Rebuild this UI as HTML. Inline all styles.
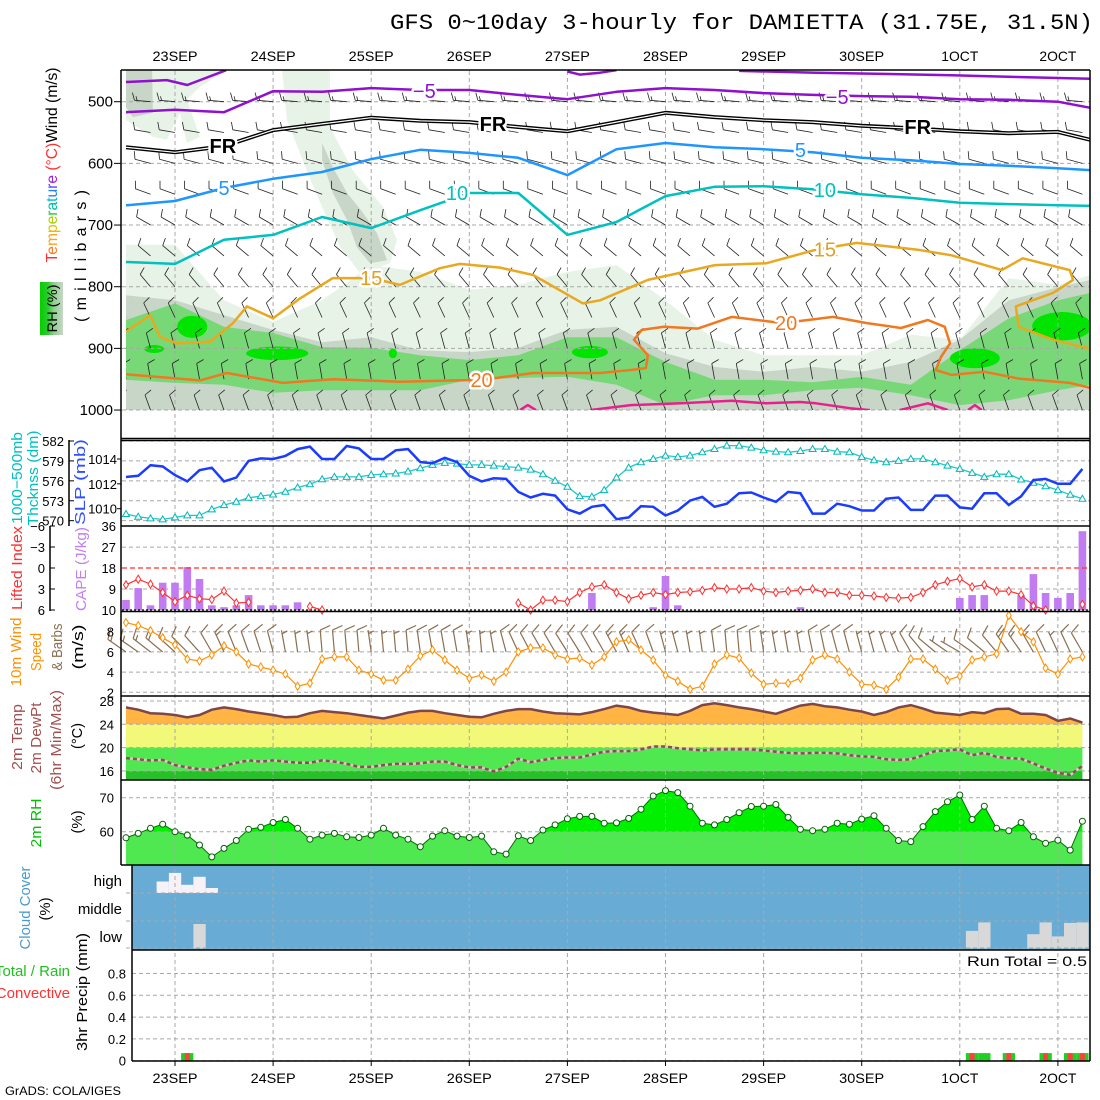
<!DOCTYPE html>
<html><head><meta charset="utf-8"><title>GFS meteogram DAMIETTA</title>
<style>
html,body{margin:0;padding:0;background:#fff;}
svg{display:block;font-family:"Liberation Sans",Arial,sans-serif;}
</style></head>
<body>
<svg id="chart" width="1100" height="1100" viewBox="0 0 1100 1100" xmlns="http://www.w3.org/2000/svg">
<defs>
<clipPath id="clipTop"><rect x="126" y="70" width="964" height="340"/></clipPath>
<clipPath id="clipRHhi"><rect x="120" y="780" width="975" height="51.7"/></clipPath>
<linearGradient id="rhGrad" x1="0" x2="1" y1="0" y2="0">
<stop offset="0" stop-color="#00d000"/><stop offset="0.35" stop-color="#30c830"/><stop offset="0.6" stop-color="#90d090"/><stop offset="1" stop-color="#c8d6c8"/>
</linearGradient>
</defs>
<rect x="0" y="0" width="1100" height="1100" fill="#fff"/>
<text x="1093" y="29" text-anchor="end" font-family="Liberation Mono, monospace" font-size="22" textLength="703" lengthAdjust="spacingAndGlyphs">GFS 0~10day 3-hourly for DAMIETTA (31.75E, 31.5N)</text>

<g id="gFill"></g>
<g id="gGrid"></g>
<g id="gMarks"></g>
<g id="gFrames" stroke="#000" stroke-width="1.5" fill="none">
<line x1="121" y1="70" x2="1090" y2="70"/>
<line x1="121" y1="70" x2="121" y2="865"/>
<line x1="1090" y1="70" x2="1090" y2="1061"/>
<line x1="121" y1="438.5" x2="1090" y2="438.5"/>
<line x1="121" y1="440.5" x2="1090" y2="440.5"/>
<line x1="121" y1="526" x2="1090" y2="526"/>
<line x1="121" y1="611.5" x2="1090" y2="611.5"/>
<line x1="121" y1="696" x2="1090" y2="696"/>
<line x1="121" y1="780" x2="1090" y2="780"/>
<line x1="121" y1="865" x2="1090" y2="865"/>
<line x1="132" y1="865" x2="132" y2="1061"/>
<line x1="132" y1="950" x2="1090" y2="950"/>
<line x1="132" y1="1061" x2="1090" y2="1061"/>
<line x1="69" y1="440" x2="69" y2="526"/>
<line x1="50" y1="526" x2="50" y2="611"/>
</g>

<g id="gLabels">
<text transform="translate(57,165) rotate(-90)" text-anchor="middle" font-size="16" textLength="195" lengthAdjust="spacingAndGlyphs"><tspan fill="#ff3030">T</tspan><tspan fill="#ff7a20">e</tspan><tspan fill="#ffa020">m</tspan><tspan fill="#e0c000">p</tspan><tspan fill="#a8d000">e</tspan><tspan fill="#30c040">r</tspan><tspan fill="#00c0a0">a</tspan><tspan fill="#00b8d8">t</tspan><tspan fill="#2080ff">u</tspan><tspan fill="#6040ff">r</tspan><tspan fill="#a020e0">e</tspan><tspan fill="#ff3030"> (°C)</tspan><tspan fill="#000">Wind (m/s)</tspan></text>
<text transform="translate(86,256) rotate(-90)" text-anchor="middle" font-size="16" textLength="132" lengthAdjust="spacing">(millibars)</text>
<rect x="40" y="282" width="23" height="53" fill="url(#rhGrad)"/>
<text transform="translate(57,308.5) rotate(-90)" text-anchor="middle" font-size="14" textLength="48" lengthAdjust="spacingAndGlyphs">RH (%)</text>
<text transform="translate(22,478) rotate(-90)" text-anchor="middle" font-size="15" fill="#00c0c0" textLength="92" lengthAdjust="spacingAndGlyphs">1000−500mb</text>
<text transform="translate(38,478) rotate(-90)" text-anchor="middle" font-size="15" fill="#00c0c0" textLength="95" lengthAdjust="spacingAndGlyphs">Thcknss (dm)</text>
<text transform="translate(85,482) rotate(-90)" text-anchor="middle" font-size="15" fill="#3050ff" textLength="86" lengthAdjust="spacingAndGlyphs">SLP (mb)</text>
<text transform="translate(22,568) rotate(-90)" text-anchor="middle" font-size="15" fill="#ff3030" textLength="84" lengthAdjust="spacingAndGlyphs">Lifted Index</text>
<text transform="translate(86,569) rotate(-90)" text-anchor="middle" font-size="15" fill="#c080f0" textLength="84" lengthAdjust="spacingAndGlyphs">CAPE (J/kg)</text>
<text transform="translate(21,652) rotate(-90)" text-anchor="middle" font-size="15" fill="#ff9000" textLength="69" lengthAdjust="spacingAndGlyphs">10m Wind</text>
<text transform="translate(41,652) rotate(-90)" text-anchor="middle" font-size="15" fill="#ff9000" textLength="38" lengthAdjust="spacingAndGlyphs">Speed</text>
<text transform="translate(62,647) rotate(-90)" text-anchor="middle" font-size="15" fill="#8c6e50" textLength="47" lengthAdjust="spacingAndGlyphs">&amp; Barbs</text>
<text transform="translate(83,647) rotate(-90)" text-anchor="middle" font-size="15" textLength="45" lengthAdjust="spacingAndGlyphs">(m/s)</text>
<text transform="translate(22,737) rotate(-90)" text-anchor="middle" font-size="15" fill="#a05050" textLength="66" lengthAdjust="spacingAndGlyphs">2m Temp</text>
<text transform="translate(41,738) rotate(-90)" text-anchor="middle" font-size="15" fill="#a05050" textLength="71" lengthAdjust="spacingAndGlyphs">2m DewPt</text>
<text transform="translate(61,740) rotate(-90)" text-anchor="middle" font-size="15" fill="#a05050" textLength="100" lengthAdjust="spacingAndGlyphs">(6hr Min/Max)</text>
<text transform="translate(82,736) rotate(-90)" text-anchor="middle" font-size="15" textLength="26" lengthAdjust="spacingAndGlyphs">(°C)</text>
<text transform="translate(41,823) rotate(-90)" text-anchor="middle" font-size="15" fill="#00c000" textLength="49" lengthAdjust="spacingAndGlyphs">2m RH</text>
<text transform="translate(82,822) rotate(-90)" text-anchor="middle" font-size="15" textLength="23" lengthAdjust="spacingAndGlyphs">(%)</text>
<text transform="translate(30,908) rotate(-90)" text-anchor="middle" font-size="15" fill="#4a9ad0" textLength="83" lengthAdjust="spacingAndGlyphs">Cloud Cover</text>
<text transform="translate(50,909) rotate(-90)" text-anchor="middle" font-size="15" textLength="23" lengthAdjust="spacingAndGlyphs">(%)</text>
<text x="122" y="886" text-anchor="end" font-size="15">high</text>
<text x="122" y="914" text-anchor="end" font-size="15">middle</text>
<text x="122" y="942" text-anchor="end" font-size="15">low</text>
<text transform="translate(87,992) rotate(-90)" text-anchor="middle" font-size="15" textLength="118" lengthAdjust="spacingAndGlyphs">3hr Precip (mm)</text>
<text x="70" y="976" text-anchor="end" font-size="15" fill="#20c020">Total / Rain</text>
<text x="70" y="998" text-anchor="end" font-size="15" fill="#ff3030">Convective</text>
<text x="1087" y="966" text-anchor="end" font-size="14" textLength="120" lengthAdjust="spacingAndGlyphs">Run Total = 0.5</text>
<text x="5" y="1095" font-size="12" textLength="116" lengthAdjust="spacingAndGlyphs">GrADS: COLA/IGES</text>
</g>
</svg>

<script>
const hours = [];
for (let i = 0; i < 79; i++) hours.push(-12 + 3 * i);
const dayLabels = ['23SEP','24SEP','25SEP','26SEP','27SEP','28SEP','29SEP','30SEP','1OCT','2OCT'];
const dayHours = [0,24,48,72,96,120,144,168,192,216];

const slp = [1012.55,1012.65,1013.5,1013.4,1012.7,1012.2,1013.1,1013.3,1012.2,1012.5,1013.85,1014.05,1014,1014.25,1014.8,1015,1014,1014,1015.05,1014.85,1014,1014,1014.7,1014.8,1013.75,1013.65,1014.1,1013.75,1012.65,1012.2,1012.45,1012.4,1011.35,1010.9,1011.2,1011.05,1009.95,1009.6,1010.15,
1010.3,1009.15,1009.3,1010.2,1010.15,1009.45,1009.85,1010.65,1010.95,1010.15,1010.4,1011.25,1011.3,1010.9,1010.55,1011.35,1011.25,1009.6,1009.6,1010.4,1010.2,1009.85,1009.85,1010.8,1010.9,1009.9,1009.9,1011.05,1011.05,1010.1,1010,1011.25,1011.25,1010.3,1011,1012.3,1012.4,1012,1012,1013.2];
const thick = [571,570.6,570.35,570.2,570.5,570.8,570.8,571.7,572.35,572.85,573.45,573.7,573.95,574.35,575,575.5,576.25,576.6,576.6,576.6,576.9,577,577.1,577.4,577.9,578.4,578.7,578.6,578.4,578.4,578.3,578.15,578,577.7,577,576,575.1,573.7,573.6,
574.6,576.5,578,578.8,579.3,579.8,579.6,579.8,580.3,580.8,581.3,581.3,581,580.6,580.4,580.3,580.5,580.8,580.8,580.4,580.3,579.6,579.1,578.8,579,579.3,579.3,578.8,578.3,577.8,577.2,576.6,577,577,576.2,575.7,575.2,574.6,573.9,573.3];
const thickTicks = [582,579,576,573,570];
const slpTicks = [1014,1012,1010];

const cape = [4.3,9.4,2,11.7,11.7,18.4,13.3,2,1.2,2,6.4,2,2,2,3.3,
0,0,0,0,0,0,0,0,0,0,0,0,0,0,0,0,0,0,0,0,0,0,0,
7.3,0,0,0,0,1.2,14.6,2,0,0,0,0,0,0,0,0,0,1.2,0,0,0,0,0,0,0,0,0,0,0,0,5.2,6.4,6.4,0,0,6.4,15.4,7.3,5.2,7.3,33.8];
const li = [2.4,1.6,2.3,3.5,4.8,3.9,4.4,4.5,3.3,5.0,4.9,null,null,null,null,5.5,6.0,
null,null,null,null,null,null,null,null,null,null,null,null,null,null,null,
5.0,6.0,4.6,4.6,4.8,3.5,2.7,2.4,3.5,4.4,3.9,3.5,3.8,3.5,3.4,3.2,2.8,3.0,3.0,2.8,3.3,3.5,3.3,3.2,3.0,3.5,3.5,3.9,3.9,4.0,4.2,4.3,4.2,3.5,2.4,1.9,1.5,2.7,2.4,3.3,3.3,3.8,5.4,6.0,null,null,5.2];
const liTicks = [-6,-3,0,3,6];
const capeTickLabels = ['36','27','18','9','10'];
const capeTickValues = [36,27,18,9,0];

const wspd = [8.9,8.6,8.1,7.4,6.7,5.3,5.1,5.7,6.6,6.0,4.8,4.5,4.2,3.8,2.6,2.9,5.3,5.5,5.5,4.2,3.8,3.2,3.2,4.3,5.6,6.2,5.2,4.2,3.4,3.7,3.1,4.0,6.0,6.4,6.4,5.7,5.3,5.4,4.7,
5.5,7.0,7.2,6.2,5.2,3.7,3.1,2.3,2.6,4.8,5.7,5.4,3.9,2.8,2.9,2.9,3.4,5.2,5.7,5.3,4.0,2.8,2.7,2.3,3.5,5.3,5.3,4.3,3.2,3.6,5.2,5.5,5.8,9.6,8.0,7.0,4.4,3.8,5.3,5.5];
const wdir = [305,305,308,310,312,315,318,330,335,338,340,342,345,
350,352,352,355,355,355,355,352,355,355,355,352,350,350,350,352,355,350,345,
335,332,330,330,328,328,330,330,332,335,335,340,345,345,
350,352,352,355,355,355,352,350,350,350,348,348,345,345,345,345,342,
338,330,320,310,305,300,305,310,320,325,325,330,335,335,335,330];
const wspdTicks = [8,6,4,2];

const t2m = [26.9,26.5,25.9,25.8,25.6,25.2,25.6,26.5,26.9,26.6,26.2,25.9,25.6,25.2,25.3,25.9,26.3,26.1,25.9,25.6,25.3,25.0,25.5,26.0,26.3,26.3,25.9,25.6,25.3,25.2,25.8,26.3,26.6,26.6,26.2,25.9,25.8,25.7,26.1,
26.6,27.2,26.9,26.3,26.0,25.8,25.6,26.3,27.3,27.6,27.3,26.9,26.6,26.2,25.8,26.5,27.2,27.5,27.1,26.9,26.5,26.2,25.6,26.1,26.9,27.3,26.7,26.0,25.8,25.6,26.1,25.9,26.6,26.7,25.8,25.8,25.6,24.6,25.0,24.3];
const td2m = [18.2,18.0,17.8,17.9,17.0,16.6,16.3,16.2,16.9,17.4,17.8,17.6,17.8,17.6,17.4,17.4,17.8,17.6,17.2,16.7,16.7,17.0,17.2,17.2,17.3,17.6,17.6,17.0,16.6,16.6,15.9,16.7,18.1,17.5,17.9,18.2,18.3,18.3,18.8,
19.3,19.4,19.4,19.7,20.2,20.2,19.9,19.7,19.5,19.7,19.7,19.7,19.7,19.5,19.3,19.1,19.0,19.1,19.1,19.0,18.7,18.5,18.4,18.0,17.9,18.0,18.7,19.4,19.5,19.7,18.7,19.1,18.4,18.2,18.1,17.3,16.4,15.7,15.3,16.9];
const tempTicks = [28,24,20,16];

const rh2m = [58.2,59.5,61.0,62.2,60.0,59.0,56.1,52.6,55.1,57.4,60.7,61.3,62.7,63.6,61.0,57.8,59.0,59.5,58.5,58.3,59.0,61.0,59.0,57.8,55.6,58.7,60.3,58.7,58.3,58.7,54.1,53.4,58.8,57.4,60.5,62.0,63.8,64.5,64.5,
62.5,62.6,63.9,66.6,70.5,72.1,71.5,67.5,62.5,62.0,63.6,65.6,67.4,67.5,68.0,64.2,60.7,60.3,60.7,62.5,62.2,63.7,64.7,61.0,57.4,57.1,61.5,65.9,68.8,70.8,63.6,67.5,61.0,60.3,62.7,58.5,56.6,57.5,54.6,63.1];
const rhTicks = [70,60];

const cloudHighIdx = [3,4,5,6,7];
const cloudHighPct = [42,73,30,59,18];
const cloudLowIdx = [6,69,70,74,75,76,77,78];
const cloudLowPct = [89,64,95,52,95,44,93,95];

const precipIdx = [5,69,70,72,75,77,78];
const precipTotal = [0.07,0.07,0.07,0.07,0.07,0.07,0.07];
const precipConv = [0.07,0.07,0,0.07,0.07,0.07,0.07];
const precipTicks = [0.8,0.6,0.4,0.2,0];
const precipTickLabels = ['0.8','0.6','0.4','0.2','0'];

const pTicks = [500,600,700,800,900,1000];
const nodeHours = [-12,0,12,24,36,48,60,72,84,96,108,120,132,144,156,168,180,192,204,216,224];
const isoM5 = [517,513,517,483,484,478,481,481,489,496,484,478,481,486,489,491,492,496,497,500,510];
const isoFR = [574,582,572,546,536,526,531,533,541,548,533,518,525,530,533,539,543,548,551,549,562];
const iso5 = [668,661,640,625,614,593,578,583,591,619,577,567,574,577,582,591,595,601,604,608,611];
const iso10 = [760,763,724,716,687,705,676,648,648,716,695,653,638,637,642,650,656,664,666,668,669];
const isoM5bHoursA = [-12,-2,3,12.5];
const isoM5bPA = [468,465,473,449];
const isoM5bHoursB = [96,99,104,108];
const isoM5bPB = [451,456,453,449];
const isoM5bHoursC = [138,157,190,206,225];
const isoM5bPC = [450,453,457,460,463];
const iso15Hours = [-12,-6.1,-3.7,0.5,8.6,14.2,17.6,24,30.6,38.6,48.2,55,64.8,69.7,79.5,87.6,99.8,104,115.7,132.1,144.6,156.8,166.8,181.7,190,202.3,207.4,218.9,219.7,214.8,205.7,206.4,214.8,225.5];
const iso15P = [873,846,881,892,889,859,832,851,819,786,786,797,770,763,769,781,827,822,789,765,762,740,729,740,749,773,754,773,789,810,832,865,886,903];
const iso20Hours = [-12,6.1,12.7,26.4,38.6,55,75.3,87.6,104,111.5,115.2,115.7,112.3,114.2,119.6,127.9,136.2,148.7,161,169.3,177.6,184.2,188.3,189.6,187.4,186.1,190,198.1,206.4,218.9,223.8];
const iso20P = [942,952,940,956,950,954,951,940,940,935,932,911,886,870,865,868,849,859,849,859,867,854,865,892,914,935,943,938,949,956,964];
const iso25HoursA = [84.4,86.3,88.3];
const iso25PA = [1000,992,1000];
const iso25HoursB = [101.5,111.5,123.8,136.2,144.6,152.9,156.8,165.1,170];
const iso25PB = [1000,992,989,985,989,987,989,997,1000];
const iso25HoursC = [177.3,184.2,189.1];
const iso25PC = [1000,989,1000];
const iso25HoursD = [194,195.7,197.4];
const iso25PD = [1000,992,1000];
const labelText = ['−5','−5','FR','FR','FR','5','5','10','10','15','15','20','20'];
const labelHours = [61,162,11.7,77.8,181.7,12,153,69,159,48,159,75,149.5];
const labelP = [483,492,572,536,541,640,578,648,643,786,740,951,859];
const labelColor = ['#9010d0','#9010d0','#000','#000','#000','#1e96ff','#1e96ff','#00c0c0','#00c0c0','#e0a020','#e0a020','#f07820','#f07820'];
const rhLightTop = [732,732,822,857,822,765,776,805,797,776,765,822,886,911,911,911,878,886,786,797,781];
const rhGrayTop = [814,822,846,870,890,882,903,906,899,870,865,908,930,938,930,938,922,886,822,801,789];
const rhGreenTop = [854,827,865,875,898,899,911,919,911,882,882,922,951,951,955,946,959,903,851,822,810];
const rhGreenBot = [951,956,959,972,968,968,968,951,948,946,959,992,976,976,968,964,976,992,984,968,959];
const streakLightHours = [26.2,37.9,37.9,43.5,50.9,54.3,52.6,45.3,40.4,33.8,27.4];
const streakLightP = [449,449,541,611,671,724,762,778,736,638,530];
const streakDarkHours = [36,38.6,42.1,46,49.4,51.9,47.7,44.5,42.1,38.6,36];
const streakDarkP = [567,606,648,680,713,757,762,736,692,648,595];
const topLeftLightHours = [-12,12.7,6.1,2.9,6.1,2.9,1.2,-2,-5.4,-12];
const topLeftLightP = [449,449,476,497,557,567,518,562,557,530];
const topLeftDarkHours = [-12,-5.6,-5.4,-10.3,-12];
const topLeftDarkP = [449,449,518,525,509];
const blobHours = [4.2,25,-5.1,53.3,101.5,195.7,217];
const blobP = [865,908,901,908,906,916,864];
const blobHalfH = [3.7,7.6,2.4,1,4.4,6.1,7.3];
const blobHalfP = [18,11,6.5,8,10,16,23];
const barbLevels = [500,550,600,650,700,750,800,850,900,950,1000];
const levelDir = [275,280,285,290,300,310,320,335,345,350,340];
const levelSpd = [15,12,10,10,10,10,8,8,10,10,10];

const X = h => 175 + h * 98.1 / 24;
const YP = p => 101.7 + (p - 500) * 0.6167;
const YSLP = v => 459 - (v - 1014) * 12.42;
const YTH = v => 441 + (582 - v) * 6.64;
const YCAPE = v => 610 - v * 2.33;
const YLI = v => 568 + v * 7;
const YW = v => 692.3 - (v - 2) * 10.1;
const YT = v => 724.3 - (v - 24) * 5.83;
const YRH = v => 831.7 - (v - 60) * 3.4;
const YPR = v => 1060.7 - v * 109;

const NS = 'http://www.w3.org/2000/svg';
const gFill = document.getElementById('gFill');
const gGrid = document.getElementById('gGrid');
const gMarks = document.getElementById('gMarks');
const gLabels = document.getElementById('gLabels');

function add(parent, tag, attrs, name) {
  const el = document.createElementNS(NS, tag);
  for (const k in attrs) el.setAttribute(k, attrs[k]);
  
  
  parent.appendChild(el);
  return el;
}
function txt(parent, x, y, s, attrs, name) {
  const el = add(parent, 'text', Object.assign({x: x, y: y}, attrs), name);
  el.textContent = s;
  return el;
}
function ptsHP(hs, ps, yf) { return hs.map((h, i) => X(h).toFixed(1) + ',' + yf(ps[i]).toFixed(1)).join(' '); }
function segments(vals) {
  const segs = []; let cur = [];
  vals.forEach((v, i) => { if (v === null) { if (cur.length) segs.push(cur); cur = []; } else cur.push(i); });
  if (cur.length) segs.push(cur);
  return segs;
}
function barb(parent, x, y, dir, kt, len, color, sw, name) {
  const r = dir * Math.PI / 180;
  const ux = Math.sin(r), uy = -Math.cos(r);
  const ex = x + ux * len, ey = y + uy * len;
  let d = 'M' + x.toFixed(1) + ' ' + y.toFixed(1) + 'L' + ex.toFixed(1) + ' ' + ey.toFixed(1);
  const a = 70 * Math.PI / 180;
  const fx = ux * Math.cos(a) - uy * Math.sin(a), fy = ux * Math.sin(a) + uy * Math.cos(a);
  let rem = Math.round(kt / 5) * 5, k = 0;
  while (rem >= 10) {
    const bx = ex - ux * k * len * 0.16, by = ey - uy * k * len * 0.16;
    d += 'M' + bx.toFixed(1) + ' ' + by.toFixed(1) + 'l' + (fx * len * 0.5).toFixed(1) + ' ' + (fy * len * 0.5).toFixed(1);
    rem -= 10; k++;
  }
  if (rem >= 5) {
    if (k === 0) k = 1;
    const bx = ex - ux * k * len * 0.16, by = ey - uy * k * len * 0.16;
    d += 'M' + bx.toFixed(1) + ' ' + by.toFixed(1) + 'l' + (fx * len * 0.27).toFixed(1) + ' ' + (fy * len * 0.27).toFixed(1);
  }
  add(parent, 'path', {d: d, stroke: color, 'stroke-width': sw, fill: 'none'}, name);
}

const topClip = add(gFill, 'g', {'clip-path': 'url(#clipTop)'}, 'upper-air-shading');
function bandPoly(tops, bots) {
  const a = nodeHours.map((h, i) => X(h).toFixed(1) + ',' + YP(tops[i]).toFixed(1));
  const b = nodeHours.map((h, i) => X(h).toFixed(1) + ',' + YP(bots ? bots[i] : 1000).toFixed(1)).reverse();
  return a.concat(b).join(' ');
}
add(topClip, 'polygon', {points: bandPoly(rhLightTop, null), fill: '#e8f3e8'}, 'rh-shade-light');
add(topClip, 'polygon', {points: ptsHP(streakLightHours, streakLightP, YP), fill: '#e8f3e8'}, 'rh-shade-streak-light');
add(topClip, 'polygon', {points: ptsHP(topLeftLightHours, topLeftLightP, YP), fill: '#e8f3e8'}, 'rh-shade-topleft-light');
add(topClip, 'polygon', {points: ptsHP(streakDarkHours, streakDarkP, YP), fill: '#c8d6c8'}, 'rh-shade-streak-dark');
add(topClip, 'polygon', {points: ptsHP(topLeftDarkHours, topLeftDarkP, YP), fill: '#c8d6c8'}, 'rh-shade-topleft-dark');
add(topClip, 'polygon', {points: bandPoly(rhGrayTop, null), fill: '#c8d6c8'}, 'rh-shade-gray');
add(topClip, 'polygon', {points: bandPoly(rhGreenTop, rhGreenBot), fill: '#78d878'}, 'rh-shade-green');
blobHours.forEach((h, i) => {
  const cx = X(h), cy = YP(blobP[i]);
  const rx = X(h + blobHalfH[i]) - cx, ry = YP(blobP[i] + blobHalfP[i]) - cy;
  add(topClip, 'ellipse', {cx: cx.toFixed(1), cy: cy.toFixed(1), rx: rx.toFixed(1), ry: ry.toFixed(1), fill: '#00e400'}, 'rh-shade-bright');
});

const x0 = X(hours[0]), x1 = X(hours[hours.length - 1]);
add(gFill, 'rect', {x: x0, y: YT(24), width: x1 - x0, height: YT(20) - YT(24), fill: '#f2f878'}, 'temp-band-yellow');
add(gFill, 'rect', {x: x0, y: YT(20), width: x1 - x0, height: YT(16) - YT(20), fill: '#50e850'}, 'temp-band-green');
add(gFill, 'rect', {x: x0, y: YT(16), width: x1 - x0, height: 780 - YT(16), fill: '#28c028'}, 'temp-band-dark-green');
add(gFill, 'polygon', {points: ptsHP(hours, t2m, YT) + ' ' + x1.toFixed(1) + ',' + YT(24) + ' ' + x0.toFixed(1) + ',' + YT(24), fill: '#ffb444'}, 'temp-fill-orange');

const rhPoly = ptsHP(hours, rh2m, YRH) + ' ' + x1.toFixed(1) + ',865 ' + x0.toFixed(1) + ',865';
add(gFill, 'polygon', {points: rhPoly, fill: '#50e850'}, 'rh-fill');
add(gFill, 'polygon', {points: rhPoly, fill: '#00f000', 'clip-path': 'url(#clipRHhi)'}, 'rh-fill-above-60');

add(gFill, 'rect', {x: 132, y: 865, width: 958, height: 85, fill: '#68acd6'}, 'cloud-background');
const halfStep = X(1.5) - X(0);
cloudHighIdx.forEach((idx, k) => {
  const xc = X(hours[idx]), hgt = cloudHighPct[k] / 100 * 27.5;
  add(gFill, 'rect', {x: (xc - halfStep).toFixed(1), y: (893 - hgt).toFixed(1), width: (2 * halfStep).toFixed(1), height: hgt.toFixed(1), fill: '#f6f2f8'}, 'cloud-high-bar');
});
cloudLowIdx.forEach((idx, k) => {
  const xc = X(hours[idx]), hgt = cloudLowPct[k] / 100 * 27.5;
  add(gFill, 'rect', {x: (xc - halfStep).toFixed(1), y: (948.5 - hgt).toFixed(1), width: (2 * halfStep).toFixed(1), height: hgt.toFixed(1), fill: '#d8d8d8'}, 'cloud-low-bar');
});

const dash = {stroke: '#a8a8a8', 'stroke-width': 1, 'stroke-dasharray': '4 3', fill: 'none'};
dayHours.forEach((h, i) => {
  add(gGrid, 'line', Object.assign({x1: X(h), y1: 71, x2: X(h), y2: 1061}, dash), 'day-gridline');
});
pTicks.forEach(p => add(gGrid, 'line', Object.assign({x1: 122, y1: YP(p), x2: 1090, y2: YP(p)}, dash), 'pressure-gridline'));
thickTicks.forEach(v => add(gGrid, 'line', Object.assign({x1: 122, y1: YTH(v), x2: 1090, y2: YTH(v)}, dash), 'thickness-gridline'));
[27, 9].forEach(v => add(gGrid, 'line', Object.assign({x1: 122, y1: YCAPE(v), x2: 1090, y2: YCAPE(v)}, dash), 'cape-gridline'));
wspdTicks.forEach(v => add(gGrid, 'line', Object.assign({x1: 122, y1: YW(v), x2: 1090, y2: YW(v)}, dash), 'wind-gridline'));
tempTicks.forEach(v => add(gGrid, 'line', Object.assign({x1: 122, y1: YT(v), x2: 1090, y2: YT(v)}, dash), 'temp-gridline'));
rhTicks.forEach(v => add(gGrid, 'line', Object.assign({x1: 122, y1: YRH(v), x2: 1090, y2: YRH(v)}, dash), 'rh-gridline'));
[893, 921, 948].forEach(y => add(gGrid, 'line', Object.assign({x1: 126, y1: y, x2: 1090, y2: y}, dash), 'cloud-gridline'));
precipTicks.forEach(v => add(gGrid, 'line', Object.assign({x1: 132, y1: YPR(v), x2: 1090, y2: YPR(v)}, dash), 'precip-gridline'));

const topMarks = add(gMarks, 'g', {'clip-path': 'url(#clipTop)'}, 'upper-air-marks');
for (let h = -12; h <= 222; h += 6) {
  barbLevels.forEach((p, j) => {
    barb(topMarks, X(h), YP(p), levelDir[j], levelSpd[j], 16, '#222', 0.8, 'upper-wind-barb');
  });
}
function contour(hs, ps, color, w, name) {
  add(topMarks, 'polyline', {points: ptsHP(hs, ps, YP), fill: 'none', stroke: color, 'stroke-width': w, 'stroke-linejoin': 'round'}, name);
}
contour(nodeHours, isoM5, '#9010d0', 2.5, 'isotherm-minus5');
contour(isoM5bHoursA, isoM5bPA, '#9010d0', 2.5, 'isotherm-minus5-upper');
contour(isoM5bHoursB, isoM5bPB, '#9010d0', 2.5, 'isotherm-minus5-upper');
contour(isoM5bHoursC, isoM5bPC, '#9010d0', 2.5, 'isotherm-minus5-upper');
contour(nodeHours, isoFR, '#000', 4, 'freezing-level');
contour(nodeHours, isoFR, '#fff', 1.2, 'freezing-level-inner');
contour(nodeHours, iso5, '#1e96ff', 2.5, 'isotherm-5');
contour(nodeHours, iso10, '#00c0c0', 2.5, 'isotherm-10');
contour(iso15Hours, iso15P, '#e8a820', 2.5, 'isotherm-15');
contour(iso20Hours, iso20P, '#f07820', 2.5, 'isotherm-20');
contour(iso25HoursA, iso25PA, '#e8208c', 2.5, 'isotherm-25');
contour(iso25HoursB, iso25PB, '#e8208c', 2.5, 'isotherm-25');
contour(iso25HoursC, iso25PC, '#e8208c', 2.5, 'isotherm-25');
contour(iso25HoursD, iso25PD, '#e8208c', 2.5, 'isotherm-25');
labelText.forEach((s, i) => {
  const x = X(labelHours[i]), y = YP(labelP[i]);
  txt(topMarks, x, y + 7, s, {'text-anchor': 'middle', 'font-size': 20, fill: labelColor[i], 'font-weight': s === 'FR' ? 'bold' : 'normal', stroke: '#fff', 'stroke-width': 5, 'paint-order': 'stroke', 'stroke-linejoin': 'round'}, 'contour-label');
});
pTicks.forEach(p => {
  txt(gLabels, 113, YP(p) + 5, String(p), {'text-anchor': 'end', 'font-size': 15}, 'pressure-tick-label');
  add(gLabels, 'line', {x1: 114, y1: YP(p), x2: 121, y2: YP(p), stroke: '#000'}, 'pressure-tick');
});

add(gMarks, 'polyline', {points: ptsHP(hours, thick, YTH), fill: 'none', stroke: '#20c8c8', 'stroke-width': 1.3}, 'thickness-line');
hours.forEach((h, i) => {
  const x = X(h), y = YTH(thick[i]);
  add(gMarks, 'path', {d: 'M' + (x - 3.5).toFixed(1) + ' ' + (y + 2.5).toFixed(1) + 'L' + (x + 3.5).toFixed(1) + ' ' + (y + 2.5).toFixed(1) + 'L' + x.toFixed(1) + ' ' + (y - 3.5).toFixed(1) + 'Z', fill: '#fff', stroke: '#00b8b8', 'stroke-width': 1}, 'thickness-marker');
});
add(gMarks, 'polyline', {points: ptsHP(hours, slp, YSLP), fill: 'none', stroke: '#1a3cff', 'stroke-width': 2.5}, 'slp-line');
thickTicks.forEach(v => {
  txt(gLabels, 64, YTH(v) + 5, String(v), {'text-anchor': 'end', 'font-size': 13}, 'thickness-tick-label');
  add(gLabels, 'line', {x1: 69, y1: YTH(v), x2: 74, y2: YTH(v), stroke: '#000'}, 'thickness-tick');
});
slpTicks.forEach(v => {
  txt(gLabels, 117, YSLP(v) + 5, String(v), {'text-anchor': 'end', 'font-size': 13}, 'slp-tick-label');
  add(gLabels, 'line', {x1: 117, y1: YSLP(v), x2: 121, y2: YSLP(v), stroke: '#000'}, 'slp-tick');
});

hours.forEach((h, i) => {
  if (cape[i] > 0) {
    const x = X(h);
    add(gMarks, 'rect', {x: (x - 3.8).toFixed(1), y: YCAPE(cape[i]).toFixed(1), width: 7.6, height: (610 - YCAPE(cape[i])).toFixed(1), fill: '#c27cf2'}, 'cape-bar');
  }
});
add(gMarks, 'line', {x1: 122, y1: YLI(0), x2: 1090, y2: YLI(0), stroke: '#ff3030', 'stroke-width': 1.2, 'stroke-dasharray': '5 3'}, 'li-zero-line');
add(gMarks, 'line', {x1: 122, y1: 610, x2: 1090, y2: 610, stroke: '#000', 'stroke-width': 1.2, 'stroke-dasharray': '2 2'}, 'cape-zero-line');
segments(li).forEach(seg => {
  add(gMarks, 'polyline', {points: seg.map(i => X(hours[i]).toFixed(1) + ',' + YLI(li[i]).toFixed(1)).join(' '), fill: 'none', stroke: '#ff3030', 'stroke-width': 1.2}, 'lifted-index-line');
});
hours.forEach((h, i) => {
  if (li[i] !== null) {
    const x = X(h), y = YLI(li[i]);
    add(gMarks, 'path', {d: 'M' + x.toFixed(1) + ' ' + (y - 4).toFixed(1) + 'l2.5 4l-2.5 4l-2.5 -4z', fill: '#fff', stroke: '#ff3030'}, 'lifted-index-marker');
  }
});
liTicks.forEach(v => {
  txt(gLabels, 45, YLI(v) + 5, v < 0 ? '−' + Math.abs(v) : String(v), {'text-anchor': 'end', 'font-size': 13}, 'li-tick-label');
  add(gLabels, 'line', {x1: 50, y1: YLI(v), x2: 55, y2: YLI(v), stroke: '#000'}, 'li-tick');
});
capeTickValues.forEach((v, k) => {
  txt(gLabels, 116, YCAPE(v) + 5, capeTickLabels[k], {'text-anchor': 'end', 'font-size': 13}, 'cape-tick-label');
});

hours.forEach((h, i) => {
  barb(gMarks, X(h), 652, wdir[i], wspd[i] * 1.944, 22, '#8c6e50', 1.2, 'wind-barb');
});
add(gMarks, 'polyline', {points: ptsHP(hours, wspd, YW), fill: 'none', stroke: '#ff9000', 'stroke-width': 1.2}, 'wind-speed-line');
hours.forEach((h, i) => {
  const x = X(h), y = YW(wspd[i]);
  add(gMarks, 'path', {d: 'M' + x.toFixed(1) + ' ' + (y - 4).toFixed(1) + 'l2.5 4l-2.5 4l-2.5 -4z', fill: '#fff', stroke: '#ff9000'}, 'wind-speed-marker');
});
wspdTicks.forEach(v => txt(gLabels, 114, YW(v) + 5, String(v), {'text-anchor': 'end', 'font-size': 13}, 'wind-tick-label'));

add(gMarks, 'polyline', {points: ptsHP(hours, t2m, YT), fill: 'none', stroke: '#7e4646', 'stroke-width': 2.5}, 'temperature-line');
add(gMarks, 'polyline', {points: ptsHP(hours, td2m, YT), fill: 'none', stroke: '#e0c8c8', 'stroke-width': 2.5}, 'dewpoint-underlay');
add(gMarks, 'polyline', {points: ptsHP(hours, td2m, YT), fill: 'none', stroke: '#8b4c52', 'stroke-width': 2.5, 'stroke-dasharray': '4 3'}, 'dewpoint-line');
tempTicks.forEach(v => txt(gLabels, 114, YT(v) + 5, String(v), {'text-anchor': 'end', 'font-size': 13}, 'temp-tick-label'));

add(gMarks, 'polyline', {points: ptsHP(hours, rh2m, YRH), fill: 'none', stroke: '#007000', 'stroke-width': 1}, 'rh-line');
hours.forEach((h, i) => {
  add(gMarks, 'circle', {cx: X(h).toFixed(1), cy: YRH(rh2m[i]).toFixed(1), r: 3, fill: '#fff', stroke: '#006000'}, 'rh-marker');
});
rhTicks.forEach(v => txt(gLabels, 114, YRH(v) + 5, String(v), {'text-anchor': 'end', 'font-size': 13}, 'rh-tick-label'));

precipIdx.forEach((idx, k) => {
  const x = X(hours[idx]);
  add(gMarks, 'rect', {x: (x - halfStep).toFixed(1), y: YPR(precipTotal[k]).toFixed(1), width: (2 * halfStep).toFixed(1), height: (1060.7 - YPR(precipTotal[k])).toFixed(1), fill: '#20d020'}, 'precip-total-bar');
  if (precipConv[k] > 0) {
    add(gMarks, 'rect', {x: (x - 2.5).toFixed(1), y: YPR(precipConv[k]).toFixed(1), width: 5, height: (1060.7 - YPR(precipConv[k])).toFixed(1), fill: '#ff4040'}, 'precip-convective-bar');
  }
});
precipTicks.forEach((v, k) => txt(gLabels, 126, YPR(v) + 5, precipTickLabels[k], {'text-anchor': 'end', 'font-size': 13}, 'precip-tick-label'));

dayHours.forEach((h, i) => {
  txt(gLabels, X(h), 61, dayLabels[i], {'text-anchor': 'middle', 'font-size': 14, textLength: dayLabels[i].length === 5 ? 45 : 37, lengthAdjust: 'spacingAndGlyphs'}, 'top-date-label');
  txt(gLabels, X(h), 1083, dayLabels[i], {'text-anchor': 'middle', 'font-size': 14, textLength: dayLabels[i].length === 5 ? 45 : 37, lengthAdjust: 'spacingAndGlyphs'}, 'bottom-date-label');
  add(gLabels, 'line', {x1: X(h), y1: 1061, x2: X(h), y2: 1066, stroke: '#000'}, 'bottom-date-tick');
});
</script>
</body></html>
